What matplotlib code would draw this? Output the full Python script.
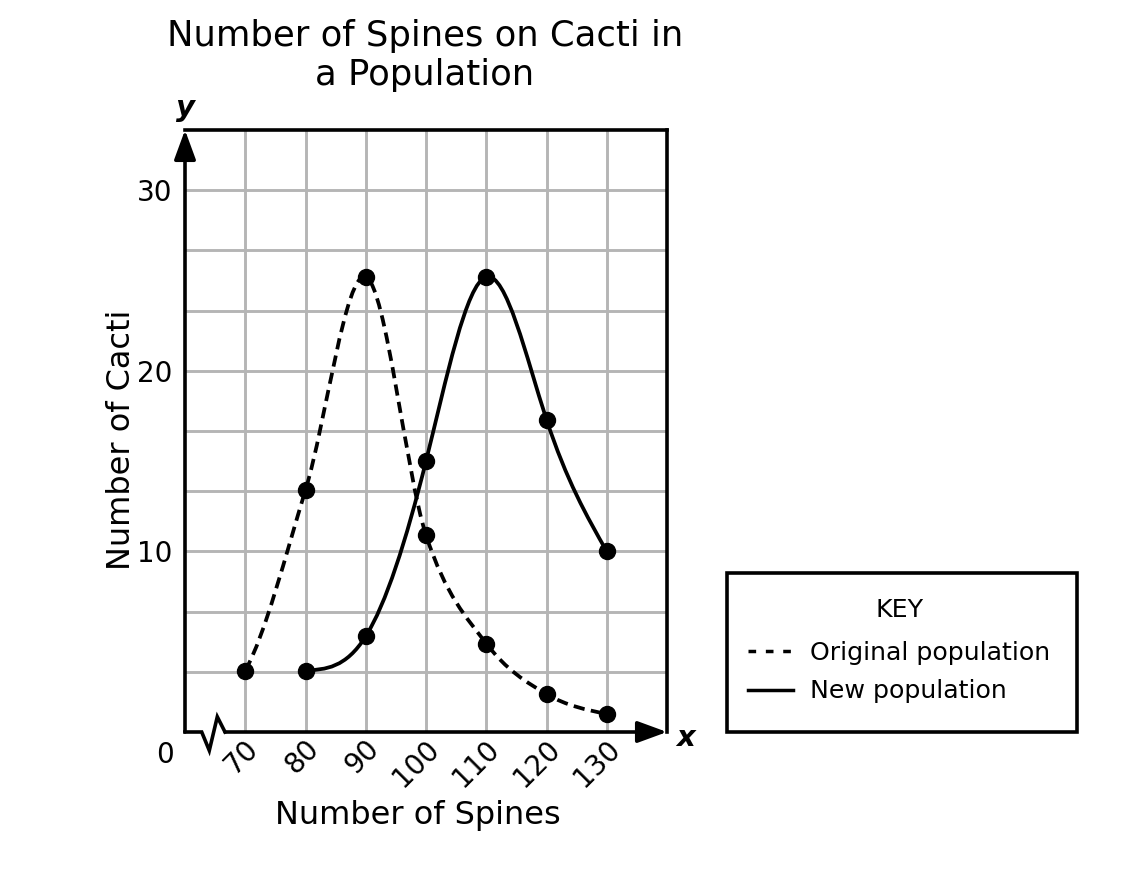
import matplotlib
matplotlib.use("Agg")
import matplotlib.pyplot as plt
import matplotlib.lines as mlines
import matplotlib.transforms as mtransforms
import numpy as np
from matplotlib.path import Path
from matplotlib.patches import PathPatch, Rectangle

# values
orig_x = [70, 80, 90, 100, 110, 120, 130]
orig_y = [3.4, 13.4, 25.2, 10.9, 4.9, 2.1, 1.0]
new_x = [80, 90, 100, 110, 120, 130]
new_y = [3.4, 5.3, 15.0, 25.2, 17.3, 10.0]
x_ticks = [70, 80, 90, 100, 110, 120, 130]
y_grid = np.linspace(10 / 3, 30, 9)
y_labels = ["", "", "10", "", "", "20", "", "", "30"]

plt.rcParams["font.family"] = ["DejaVu Sans"]

LW = 2.6


def tangents_cardinal(xs, ys, end_scale=0.6):
    n = len(xs)
    m = np.zeros(n)
    m[0] = end_scale * (ys[1] - ys[0]) / (xs[1] - xs[0])
    m[-1] = end_scale * (ys[-1] - ys[-2]) / (xs[-1] - xs[-2])
    for i in range(1, n - 1):
        m[i] = (ys[i + 1] - ys[i - 1]) / (xs[i + 1] - xs[i - 1])
    return m


def tangents_natural(xs, ys):
    n = len(xs)
    h = np.diff(xs)
    d = np.diff(ys) / h
    A = np.zeros((n, n))
    b = np.zeros(n)
    A[0, 0], A[0, 1], b[0] = 2 / h[0], 1 / h[0], 3 * d[0] / h[0]
    for i in range(1, n - 1):
        A[i, i - 1] = 1 / h[i - 1]
        A[i, i] = 2 / h[i - 1] + 2 / h[i]
        A[i, i + 1] = 1 / h[i]
        b[i] = 3 * (d[i - 1] / h[i - 1] + d[i] / h[i])
    A[-1, -2], A[-1, -1], b[-1] = 1 / h[-1], 2 / h[-1], 3 * d[-1] / h[-1]
    return np.linalg.solve(A, b)


def smooth_path(xs, ys, natural=False):
    # smooth curve through the points as cubic bezier segments
    xs = np.asarray(xs, float)
    ys = np.asarray(ys, float)
    m = tangents_natural(xs, ys) if natural else tangents_cardinal(xs, ys)
    verts = [(xs[0], ys[0])]
    codes = [Path.MOVETO]
    for i in range(len(xs) - 1):
        k = (xs[i + 1] - xs[i]) / 3
        verts += [(xs[i] + k, ys[i] + m[i] * k),
                  (xs[i + 1] - k, ys[i + 1] - m[i + 1] * k),
                  (xs[i + 1], ys[i + 1])]
        codes += [Path.CURVE4] * 3
    return Path(verts, codes)


fig = plt.figure(figsize=(11.46, 8.94), dpi=100)
ax = fig.add_axes([185 / 1146, 1 - 732 / 894, 482 / 1146, 602 / 894])

ax.set_xlim(60, 140)
ax.set_ylim(0, 100 / 3)

ax.set_xticks(x_ticks)
ax.set_xticklabels([str(v) for v in x_ticks], rotation=45, ha="right",
                   va="center", rotation_mode="anchor", fontsize=20)
ax.set_yticks(y_grid)
ax.set_yticklabels(y_labels, fontsize=20)
ax.tick_params(axis="x", length=0, pad=9)
ax.tick_params(axis="y", length=0, pad=9)
shift = mtransforms.ScaledTranslation(0.09, 0, fig.dpi_scale_trans)
for lab in ax.get_xticklabels():
    lab.set_transform(lab.get_transform() + shift)

ax.grid(True, color="#b5b5b5", linewidth=2.1)
ax.set_axisbelow(True)

for side in ["left", "bottom"]:
    ax.spines[side].set_visible(False)
for side in ["top", "right"]:
    ax.spines[side].set_linewidth(LW)
    ax.spines[side].set_color("black")

# curves
ax.add_patch(PathPatch(smooth_path(orig_x, orig_y), fill=False, lw=2.7,
                       edgecolor="black", linestyle=(0, (3.0, 1.7)),
                       capstyle="butt", zorder=3))
ax.add_patch(PathPatch(smooth_path(new_x, new_y, natural=True), fill=False,
                       lw=2.7, edgecolor="black", zorder=3))
ax.plot(orig_x, orig_y, "o", color="black", ms=11.5, zorder=4, clip_on=False)
ax.plot(new_x, new_y, "o", color="black", ms=11.5, zorder=4, clip_on=False)

# axes with arrows and the break mark
head = "-|>,head_length=0.9,head_width=0.33"
ax.annotate("", xy=(0, 1), xytext=(0, 0), xycoords="axes fraction",
            textcoords="axes fraction",
            arrowprops=dict(arrowstyle=head, mutation_scale=20, lw=LW,
                            color="black", shrinkA=0, shrinkB=0))
corner = fig.dpi_scale_trans + mtransforms.ScaledTranslation(0, 0, ax.transAxes)
zig_x = [0, 0.167, 0.243, 0.323, 0.40]
zig_y = [0, 0, -0.185, 0.152, 0]
ax.add_line(mlines.Line2D(zig_x, zig_y, transform=corner, color="black",
                          lw=LW, clip_on=False, solid_joinstyle="miter"))
ax.annotate("", xy=(1, 0), xycoords="axes fraction", xytext=(0.40, 0),
            textcoords=corner,
            arrowprops=dict(arrowstyle=head, mutation_scale=20, lw=LW,
                            color="black", shrinkA=0, shrinkB=0))

ax.annotate("0", xy=(0, 0), xycoords="axes fraction", xytext=(-20, -23),
            textcoords="offset pixels", ha="center", va="center", fontsize=20)
ax.annotate("y", xy=(0, 1), xycoords="axes fraction", xytext=(0, 22),
            textcoords="offset pixels", ha="center", va="center", fontsize=21,
            fontweight="bold", fontstyle="italic")
ax.annotate("x", xy=(1, 0), xycoords="axes fraction", xytext=(19, -6),
            textcoords="offset pixels", ha="center", va="center", fontsize=21,
            fontweight="bold", fontstyle="italic")

ax.set_xlabel("Number of Spines", fontsize=23, va="center")
ax.xaxis.set_label_coords(0.483, -0.138)
ax.set_ylabel("Number of Cacti", fontsize=23, va="center")
ax.yaxis.set_label_coords(-0.132, 0.485)

fig.text(425 / 1146, 1 - 55.5 / 894, "Number of Spines on Cacti in\na Population",
         ha="center", va="center", fontsize=25.5, linespacing=1.2)

# key
h1 = mlines.Line2D([], [], color="black", lw=2.5, linestyle=(0, (2.2, 2.8)))
h2 = mlines.Line2D([], [], color="black", lw=2.5)
leg = fig.legend(handles=[h1, h2], labels=["Original population", "New population"],
                 title="KEY", loc="upper left",
                 bbox_to_anchor=(727 / 1146, 1 - 577 / 894), frameon=False,
                 fontsize=18.2, title_fontsize=18.2, borderpad=0.85,
                 handlelength=1.75, handletextpad=0.7, labelspacing=0.56,
                 borderaxespad=0)
leg._legend_box.sep = 13.5
fig.patches.append(Rectangle((727 / 1146, 1 - 732 / 894), 350 / 1146, 159 / 894,
                             transform=fig.transFigure, fill=False,
                             edgecolor="black", lw=LW))

fig.savefig("out.png", dpi=100, facecolor="white")
